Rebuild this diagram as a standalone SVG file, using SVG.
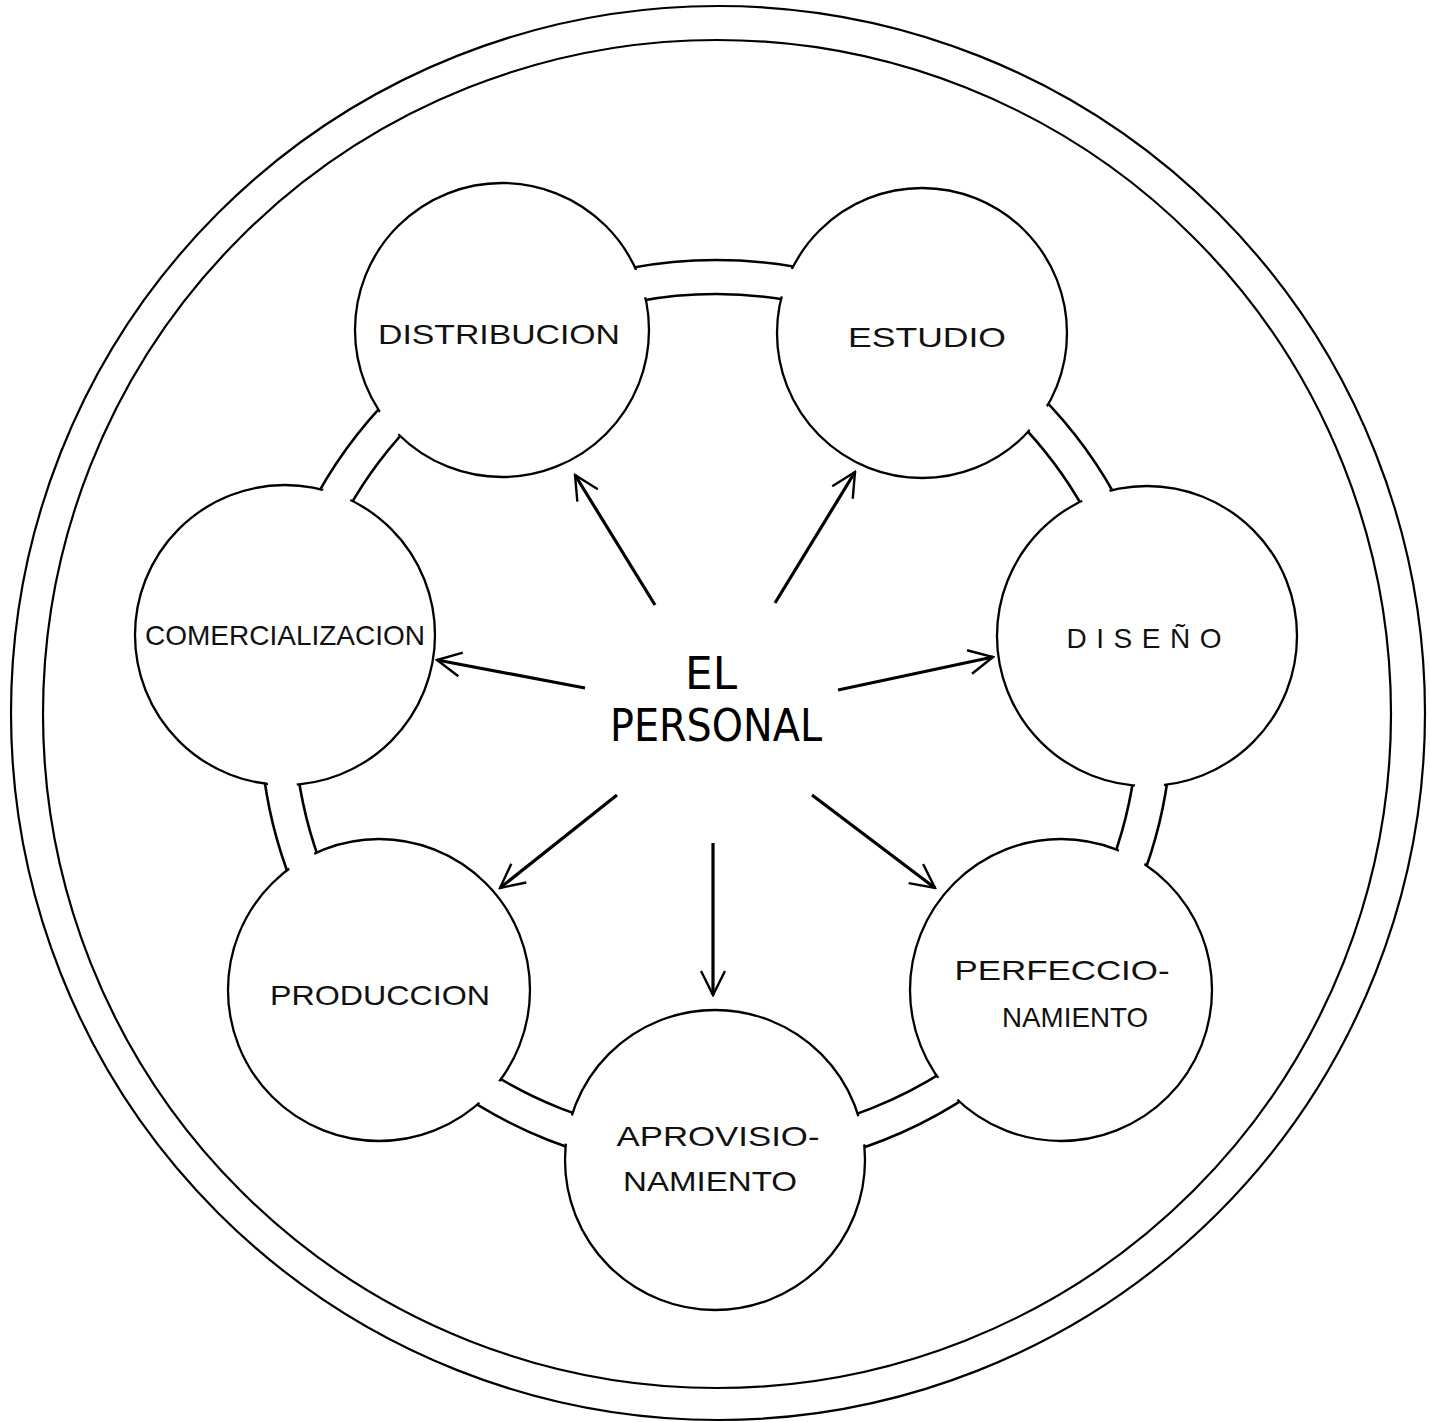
<svg xmlns="http://www.w3.org/2000/svg" width="1430" height="1422" viewBox="0 0 1430 1422">
<style>
.frame{fill:none;stroke:#000;stroke-width:2.2}
.band{fill:none;stroke:#000;stroke-width:2.6}
.node{fill:#fff;stroke:#000;stroke-width:2.3}
.lbl{font-family:"Liberation Sans","DejaVu Sans",sans-serif;font-size:28px;fill:#111;text-anchor:middle}
.title{font-family:"DejaVu Sans Condensed","DejaVu Sans","Liberation Sans",sans-serif;font-size:44px;fill:#000;text-anchor:middle}
.arrow{fill:none;stroke:#000;stroke-width:3.2;marker-end:url(#head)}
</style>
<defs>
<marker id="head" markerUnits="userSpaceOnUse" viewBox="0 0 30 30" refX="28" refY="15" markerWidth="30" markerHeight="30" orient="auto">
<path d="M4,3 L28,15 L4,27" fill="none" stroke="#000" stroke-width="2.4"/>
</marker>
<mask id="gap" maskUnits="userSpaceOnUse" x="0" y="0" width="1430" height="1422">
<rect x="0" y="0" width="1430" height="1422" fill="#fff"/>
<circle cx="716" cy="716" r="439" fill="none" stroke="#000" stroke-width="28.5"/>
</mask>
</defs>
<rect x="0" y="0" width="1430" height="1422" fill="#fff"/>
<g id="frame">
<circle class="frame" cx="718" cy="713" r="707"/>
<circle class="frame" cx="717" cy="714" r="674"/>
</g>
<g id="ring">
<circle class="band" cx="716" cy="716" r="422"/>
<circle class="band" cx="716" cy="716" r="456"/>
</g>
<g id="node-distribucion">
<circle class="node" cx="502" cy="330" r="147" mask="url(#gap)"/>
<text class="lbl" x="499" y="344" textLength="242" lengthAdjust="spacingAndGlyphs">DISTRIBUCION</text>
</g>
<g id="node-estudio">
<circle class="node" cx="922" cy="333" r="145" mask="url(#gap)"/>
<text class="lbl" x="927" y="347" textLength="158" lengthAdjust="spacingAndGlyphs">ESTUDIO</text>
</g>
<g id="node-diseno">
<circle class="node" cx="1147" cy="636" r="150" mask="url(#gap)"/>
<text class="lbl" x="1144" y="648" textLength="155" lengthAdjust="spacing">DISEÑO</text>
</g>
<g id="node-perfeccionamiento">
<circle class="node" cx="1061" cy="990" r="151" mask="url(#gap)"/>
<text class="lbl" x="1062" y="980" textLength="215" lengthAdjust="spacingAndGlyphs">PERFECCIO-</text>
<text class="lbl" x="1075" y="1027" textLength="146" lengthAdjust="spacingAndGlyphs">NAMIENTO</text>
</g>
<g id="node-aprovisionamiento">
<circle class="node" cx="715" cy="1160" r="150" mask="url(#gap)"/>
<text class="lbl" x="718" y="1146" textLength="203" lengthAdjust="spacingAndGlyphs">APROVISIO-</text>
<text class="lbl" x="710" y="1191" textLength="174" lengthAdjust="spacingAndGlyphs">NAMIENTO</text>
</g>
<g id="node-produccion">
<circle class="node" cx="379" cy="990" r="151" mask="url(#gap)"/>
<text class="lbl" x="380" y="1005" textLength="220" lengthAdjust="spacingAndGlyphs">PRODUCCION</text>
</g>
<g id="node-comercializacion">
<circle class="node" cx="285" cy="635" r="150" mask="url(#gap)"/>
<text class="lbl" x="285" y="645" textLength="280" lengthAdjust="spacingAndGlyphs">COMERCIALIZACION</text>
</g>
<g id="node-personal">
<text class="title" x="711" y="689" textLength="52" lengthAdjust="spacingAndGlyphs">EL</text>
<text class="title" x="716" y="741" textLength="212" lengthAdjust="spacingAndGlyphs">PERSONAL</text>
</g>
<g id="connectors">
<line class="arrow" x1="655" y1="605" x2="575" y2="475"/>
<line class="arrow" x1="775" y1="603" x2="855" y2="472"/>
<line class="arrow" x1="585" y1="688" x2="437" y2="660"/>
<line class="arrow" x1="838" y1="690" x2="993" y2="657"/>
<line class="arrow" x1="617" y1="795" x2="500" y2="888"/>
<line class="arrow" x1="713" y1="843" x2="713" y2="995"/>
<line class="arrow" x1="812" y1="795" x2="935" y2="888"/>
</g>
</svg>
